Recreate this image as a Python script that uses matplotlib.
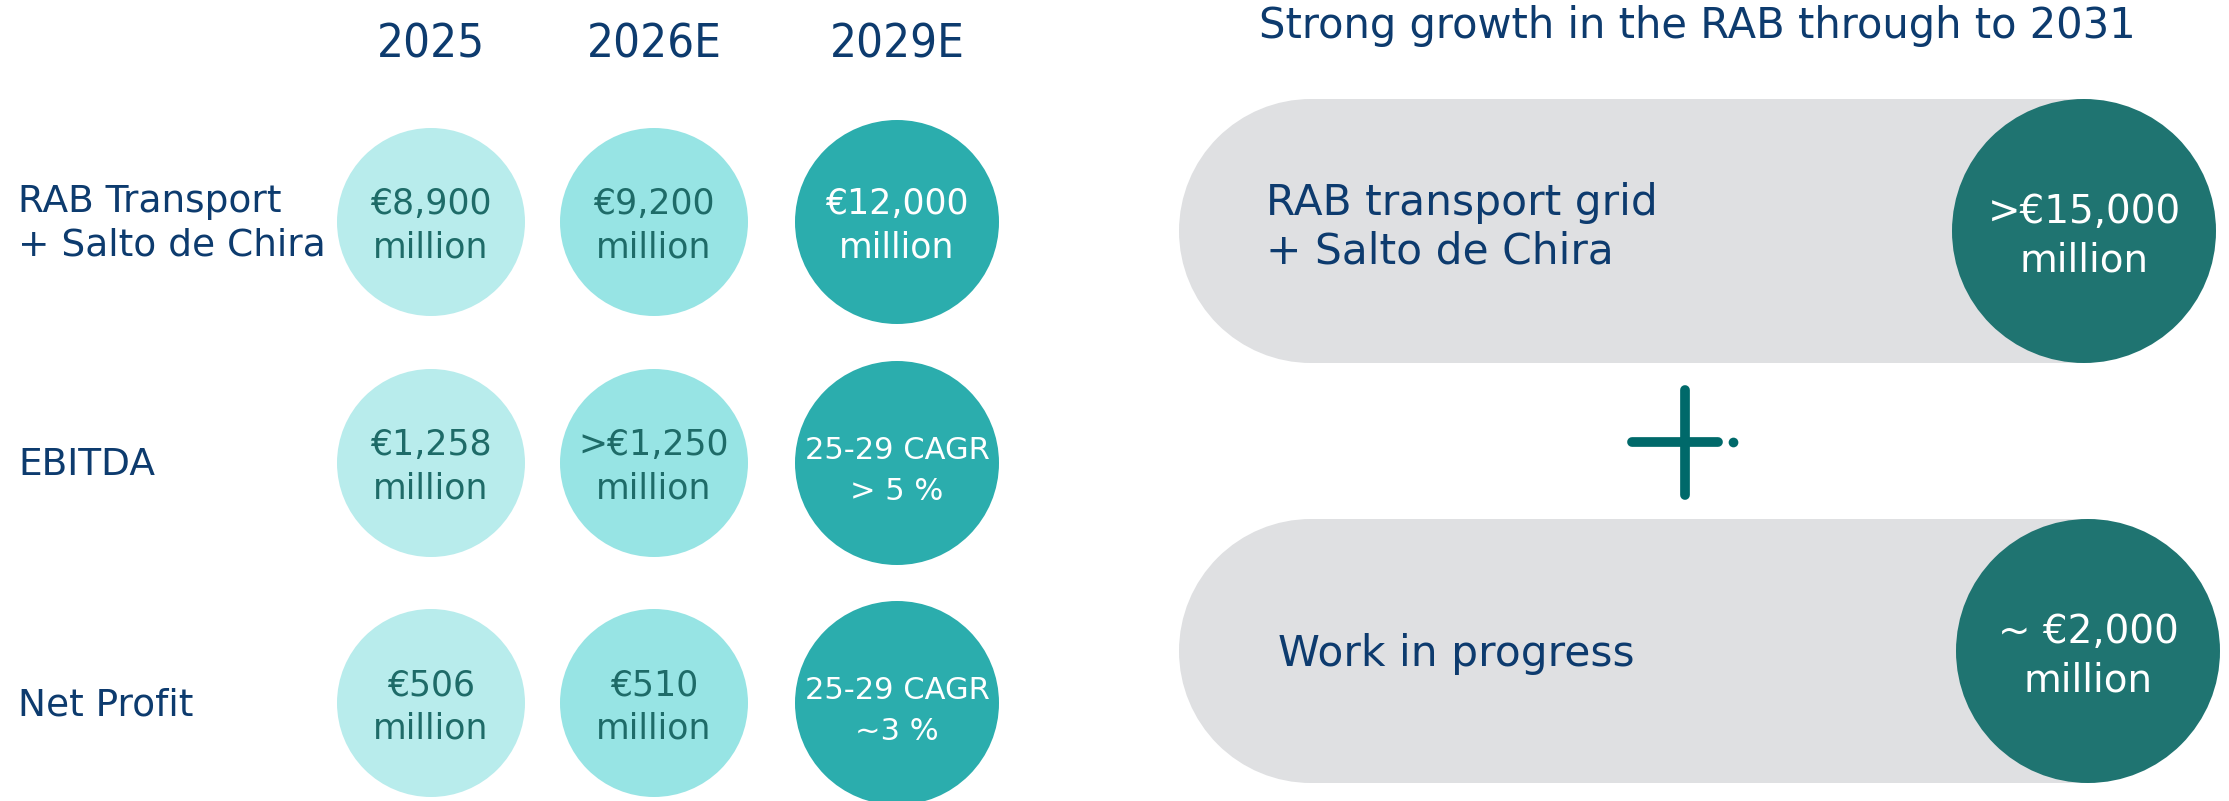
import matplotlib
matplotlib.use("Agg")
import matplotlib.pyplot as plt
from matplotlib.patches import Circle, Rectangle

plt.rcParams['font.family'] = ['DejaVu Sans']

# data
years = ['2025', '2026E', '2029E']
metrics = ['RAB Transport\n+ Salto de Chira', 'EBITDA', 'Net Profit']
values = [['€8,900\nmillion', '€9,200\nmillion', '€12,000\nmillion'],
          ['€1,258\nmillion', '>€1,250\nmillion', '25-29 CAGR\n> 5 %'],
          ['€506\nmillion', '€510\nmillion', '25-29 CAGR\n~3 %']]
rab_title = 'Strong growth in the RAB through to 2031'
rab_items = ['RAB transport grid\n+ Salto de Chira', 'Work in progress']
rab_values = ['>€15,000\nmillion', '~ €2,000\nmillion']

# styles
navy = '#0d3b6e'
teal_text = '#1e6b68'
col_colors = ['#b8ecec', '#97e4e4', '#2badad']
col_text = [teal_text, teal_text, 'white']
dark = '#1f7471'
grey = '#dfe0e2'
plus_color = '#00696a'

# layout (pixels)
col_x = [431, 654, 897]
row_y = [222, 463, 703]
radius = [94, 94, 102]

fig = plt.figure(figsize=(22.29, 8.01), dpi=100)
ax = fig.add_axes([0, 0, 1, 1])
ax.set_xlim(0, 2229)
ax.set_ylim(801, 0)
ax.set_aspect('equal')
ax.axis('off')

# left grid
for j, yr in enumerate(years):
    ax.text(col_x[j], 57, yr, ha='center', va='baseline', fontsize=34, color=navy,
            fontstretch='condensed')
for i, m in enumerate(metrics):
    ax.text(18, row_y[i] + 2, m, ha='left', va='center', fontsize=27, color=navy,
            linespacing=1.25)
    for j in range(len(years)):
        ax.add_patch(Circle((col_x[j], row_y[i]), radius[j], color=col_colors[j], lw=0))
        txt = values[i][j]
        if 'CAGR' in txt:
            fs, ls, dy = 22, 1.5, 8
        else:
            fs, ls, dy = 25, 1.35, 4
        ax.text(col_x[j], row_y[i] + dy, txt, ha='center', va='center',
                fontsize=fs, color=col_text[j], linespacing=ls)

# right panel
ax.text(1697, 38, rab_title, ha='center', va='baseline', fontsize=30, color=navy)
cyl_y = [231, 651]
cyl_r = 132
left_x = 1179
right_cx = [2084, 2088]
text_x = [1266, 1278]
text_dy = [-4, 3]
for k in range(2):
    cy = cyl_y[k]
    ax.add_patch(Circle((left_x + cyl_r, cy), cyl_r, color=grey, lw=0))
    ax.add_patch(Rectangle((left_x + cyl_r, cy - cyl_r), right_cx[k] - left_x - cyl_r, 2 * cyl_r,
                           color=grey, lw=0))
    ax.add_patch(Circle((right_cx[k], cy), cyl_r, color=dark, lw=0))
    ax.text(text_x[k], cy + text_dy[k], rab_items[k], ha='left', va='center', fontsize=30.5,
            color=navy, linespacing=1.2)
    ax.text(right_cx[k], cy + 5, rab_values[k], ha='center', va='center', fontsize=28,
            color='white', linespacing=1.35)

# plus sign
ax.plot([1685, 1685], [390, 495], color=plus_color, lw=7, solid_capstyle='round')
ax.plot([1632, 1718], [442, 442], color=plus_color, lw=7, solid_capstyle='round')
ax.plot([1733], [442], marker='o', ms=7, color=plus_color, mew=0)

fig.savefig('out.png', dpi=100)
